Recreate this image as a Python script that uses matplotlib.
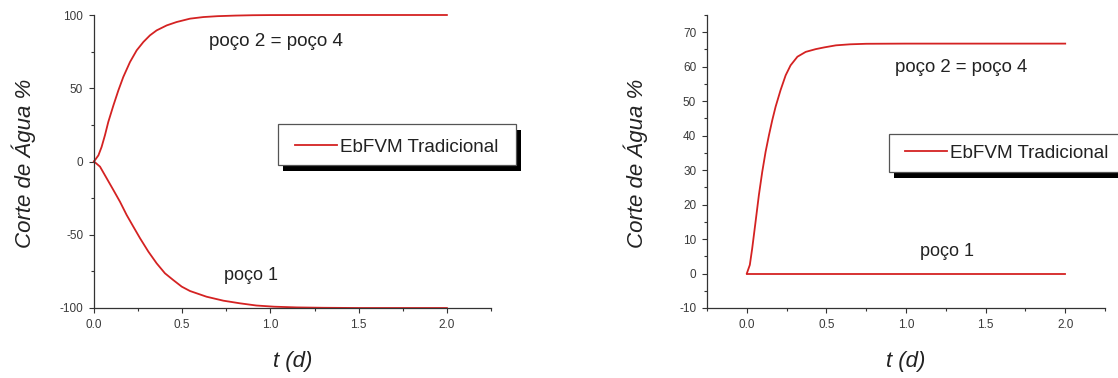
import matplotlib
matplotlib.use("Agg")
import matplotlib.pyplot as plt
from matplotlib.patches import Rectangle
from matplotlib.ticker import MultipleLocator, FormatStrFormatter

# --- data -------------------------------------------------------------
# Left panel (water cut, signed)
t_left_up = [0, 0.025, 0.043, 0.062, 0.081, 0.11, 0.138, 0.166, 0.204, 0.242,
             0.28, 0.317, 0.355, 0.412, 0.468, 0.544, 0.62, 0.7, 0.8, 0.9,
             1.0, 1.25, 1.5, 2.0]
wc_left_up = [0, 4.2, 9.9, 17.9, 27.0, 38.3, 48.5, 57.7, 67.9, 75.9,
              81.6, 86.1, 89.5, 92.9, 95.2, 97.5, 98.6, 99.2, 99.6, 99.85,
              99.95, 100, 100, 100]

t_left_down = [0, 0.034, 0.072, 0.11, 0.147, 0.185, 0.223, 0.261, 0.308,
               0.355, 0.402, 0.449, 0.497, 0.544, 0.638, 0.733, 0.827, 0.92,
               1.02, 1.15, 1.3, 1.5, 2.0]
wc_left_down = [0, -3.5, -11.5, -19.5, -27.4, -36.5, -44.5, -52.4, -61.5,
                -69.5, -76.3, -80.9, -85.4, -88.4, -92.3, -95.0, -96.8, -98.3,
                -99.1, -99.6, -99.85, -100, -100]

# Right panel (water cut)
t_right_up = [0, 0.019, 0.034, 0.055, 0.076, 0.097, 0.118, 0.139, 0.16,
              0.181, 0.212, 0.244, 0.275, 0.318, 0.37, 0.433, 0.486, 0.56,
              0.65, 0.75, 1.0, 1.5, 2.0]
wc_right_up = [0, 2.5, 7.3, 15.0, 22.8, 29.5, 35.3, 40.1, 44.5,
               48.4, 53.2, 57.5, 60.4, 62.9, 64.3, 65.1, 65.6, 66.2,
               66.5, 66.65, 66.7, 66.7, 66.7]

t_right_down = [0, 2.0]
wc_right_down = [0, 0]

legend_label = "EbFVM Tradicional"
label_up = "poço 2 = poço 4"
label_down = "poço 1"
xlabel = "t (d)"
ylabel = "Corte de Água %"

# --- style ------------------------------------------------------------
plt.rcParams["font.family"] = ["Liberation Sans", "DejaVu Sans"]
plt.rcParams["axes.unicode_minus"] = False
RED = "#d42222"
AX = "#333333"
W, H = 1118, 378

fig = plt.figure(figsize=(W / 100, H / 100), dpi=100)


def fx(px):
    return px / W


def fy(py):
    return 1 - py / H


def make_axes(left_px, right_px, top_px, bottom_px):
    ax = fig.add_axes([fx(left_px), fy(bottom_px),
                       (right_px - left_px) / W, (bottom_px - top_px) / H])
    for s in ("top", "right"):
        ax.spines[s].set_visible(False)
    for s in ("left", "bottom"):
        ax.spines[s].set_color(AX)
        ax.spines[s].set_linewidth(0.9)
    ax.tick_params(which="major", direction="out", length=3.8, width=0.8,
                   color=AX, labelsize=8.5, labelcolor="#3a3a3a", pad=4)
    ax.tick_params(which="minor", direction="out", length=2.2, width=0.8,
                   color=AX)
    ax.xaxis.set_major_locator(MultipleLocator(0.5))
    ax.xaxis.set_minor_locator(MultipleLocator(0.25))
    ax.xaxis.set_major_formatter(FormatStrFormatter("%.1f"))
    ax.set_xlabel(xlabel, fontsize=16, style="italic", color="#222222")
    ax.set_ylabel(ylabel, fontsize=16, style="italic", color="#222222")
    ax.xaxis.set_label_coords(0.5, -0.181)
    ax.xaxis.label.set_va("center")
    ax.yaxis.set_label_coords(-0.178, 0.495)
    ax.yaxis.label.set_va("center")
    return ax


def legend_box(ax, box, line_start_px, y_center_px):
    l, t, r, b = box
    shadow = Rectangle((fx(l + 5), fy(b + 6)), (r - l) / W, (b - t) / H,
                       transform=fig.transFigure, facecolor="black",
                       edgecolor="none", clip_on=False, zorder=4)
    frame = Rectangle((fx(l), fy(b)), (r - l) / W, (b - t) / H,
                      transform=fig.transFigure, facecolor="white",
                      edgecolor="#555555", linewidth=0.9, clip_on=False,
                      zorder=4.5)
    ax.add_artist(shadow)
    ax.add_artist(frame)
    leg = ax.legend(loc="center left",
                    bbox_to_anchor=(fx(line_start_px), fy(y_center_px)),
                    bbox_transform=fig.transFigure, frameon=False,
                    borderpad=0, borderaxespad=0, handlelength=2.2,
                    handletextpad=0.2, fontsize=13.6)
    leg.set_zorder(5)
    for txt in leg.get_texts():
        txt.set_color("#222222")


# --- left panel -------------------------------------------------------
ax1 = make_axes(94, 491, 15, 308)
ax1.plot(t_left_up, wc_left_up, color=RED, lw=1.3, label=legend_label,
         clip_on=False)
ax1.plot(t_left_down, wc_left_down, color=RED, lw=1.3, clip_on=False)
ax1.set_xlim(0, 2.25)
ax1.set_ylim(-100, 100)
ax1.yaxis.set_major_locator(MultipleLocator(50))
ax1.yaxis.set_minor_locator(MultipleLocator(25))
ax1.text(0.652, 81.8, label_up, fontsize=13.6, color="#222222",
         ha="left", va="center")
ax1.text(0.737, -77.5, label_down, fontsize=13, color="#222222",
         ha="left", va="center")
legend_box(ax1, (278, 124, 516, 165), 295, 147)

# --- right panel ------------------------------------------------------
ax2 = make_axes(707, 1105, 15, 308)
ax2.plot(t_right_up, wc_right_up, color=RED, lw=1.3, label=legend_label,
         clip_on=False)
ax2.plot(t_right_down, wc_right_down, color=RED, lw=1.3, clip_on=False)
ax2.set_xlim(-0.25, 2.25)
ax2.set_ylim(-10, 75)
ax2.yaxis.set_major_locator(MultipleLocator(10))
ax2.yaxis.set_minor_locator(MultipleLocator(5))
ax2.text(0.934, 59.9, label_up, fontsize=13.4, color="#222222",
         ha="left", va="center")
ax2.text(1.09, 6.3, label_down, fontsize=13, color="#222222",
         ha="left", va="center")
legend_box(ax2, (889, 134, 1130, 172), 905, 153)

fig.savefig("out.png", dpi=100)
